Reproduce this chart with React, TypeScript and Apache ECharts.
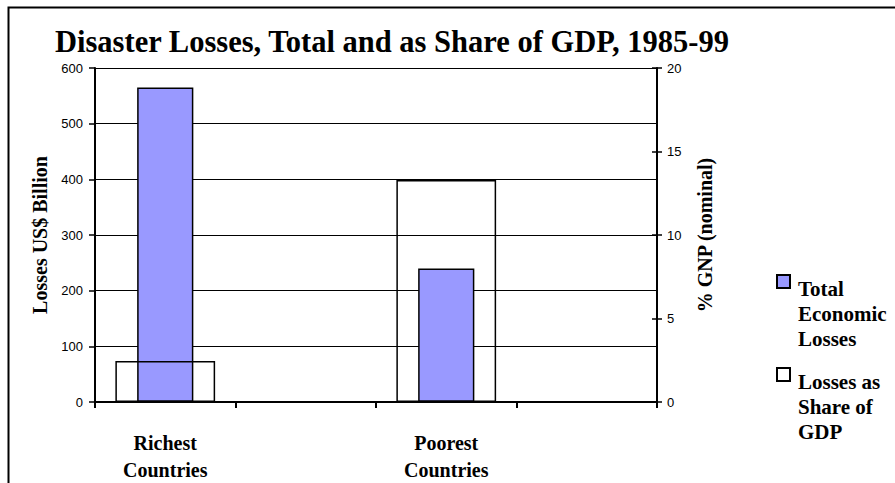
import React, { useEffect, useRef } from "react";
import * as echarts from "echarts";

const titleText = "Disaster Losses, Total and as Share of GDP, 1985-99";
const categories = ["Richest Countries", "", "Poorest Countries", ""];
const seriesNames = ["Total Economic Losses", "Losses as Share of GDP"];
const legendLines = [["Total", "Economic", "Losses"], ["Losses as", "Share of", "GDP"]];
const totalLosses = [565, null, 240, null];
const shareOfGdp = [2.45, null, 13.3, null];
const leftAxisName = "Losses US$ Billion";
const rightAxisName = "% GNP (nominal)";
const leftMin = 0, leftMax = 600, leftStep = 100;
const rightMin = 0, rightMax = 20, rightStep = 5;

const SERIF = "'Liberation Serif', 'Times New Roman', serif";
const SANS = "'Liberation Sans', Arial, sans-serif";

export default function App() {
  const ref = useRef<HTMLDivElement>(null);
  useEffect(() => {
    document.body.style.margin = "0";
    const chart = echarts.init(ref.current!, null, { renderer: "svg" });
    const legendText = {
      fontFamily: SERIF,
      fontWeight: "bold" as const,
      fontSize: 21,
      lineHeight: 25,
      color: "#000",
      rich: {
        pad: { fontSize: 10, lineHeight: 64, height: 64 },
        t: { fontFamily: SERIF, fontWeight: "bold", fontSize: 21, lineHeight: 25, color: "#000", padding: [0, 0, 0, 3] },
      },
    };
    const legendFormat = (i: number) => () =>
      "{pad| }\n" + legendLines[i].map((s) => "{t|" + s + "}").join("\n");
    chart.setOption({
      animation: false,
      backgroundColor: "#fff",
      title: {
        text: titleText,
        left: 55,
        top: 26,
        padding: 0,
        textStyle: { fontFamily: SERIF, fontWeight: "bold", fontSize: 30.5, color: "#000" },
      },
      grid: { left: 95, right: 238, top: 68, bottom: 75 },
      legend: [
        {
          data: [{ name: seriesNames[0], itemStyle: { color: "#9999FF", borderColor: "#000", borderWidth: 2 } }],
          orient: "vertical",
          left: 776,
          top: 212,
          padding: 0,
          itemWidth: 13,
          itemHeight: 13,
          icon: "rect",
          selectedMode: false,
          formatter: legendFormat(0),
          textStyle: legendText,
        },
        {
          data: [{ name: seriesNames[1], itemStyle: { color: "#fff", borderColor: "#000", borderWidth: 2 } }],
          orient: "vertical",
          left: 776,
          top: 305,
          padding: 0,
          itemWidth: 13,
          itemHeight: 13,
          icon: "rect",
          selectedMode: false,
          formatter: legendFormat(1),
          textStyle: legendText,
        },
      ],
      xAxis: [
        {
          type: "category",
          data: categories,
          axisLine: { lineStyle: { color: "#000", width: 2 } },
          axisTick: { show: true, length: 6, lineStyle: { color: "#000", width: 2 } },
          axisLabel: {
            interval: 0,
            margin: 27,
            formatter: (v: string) => v.replace(" ", "\n"),
            fontFamily: SERIF,
            fontWeight: "bold",
            fontSize: 20,
            lineHeight: 27,
            color: "#000",
          },
          splitLine: { show: false },
        },
        { type: "category", data: categories, show: false },
      ],
      yAxis: [
        {
          type: "value",
          position: "left",
          min: leftMin,
          max: leftMax,
          interval: leftStep,
          name: leftAxisName,
          nameLocation: "middle",
          nameRotate: 90,
          nameGap: 44,
          nameTextStyle: { fontFamily: SERIF, fontWeight: "bold", fontSize: 20, color: "#000" },
          axisLine: { show: true, lineStyle: { color: "#000", width: 2 } },
          axisTick: { show: true, length: 6, lineStyle: { color: "#000", width: 1.5 } },
          axisLabel: { margin: 12, fontFamily: SANS, fontSize: 13, color: "#000" },
          splitLine: { show: true, lineStyle: { color: "#000", width: 1 } },
        },
        {
          type: "value",
          position: "right",
          min: rightMin,
          max: rightMax,
          interval: rightStep,
          name: rightAxisName,
          nameLocation: "middle",
          nameRotate: 90,
          nameGap: 38,
          nameTextStyle: { fontFamily: SERIF, fontWeight: "bold", fontSize: 20, color: "#000" },
          axisLine: { show: true, lineStyle: { color: "#000", width: 2 } },
          axisTick: { show: true, length: 5, lineStyle: { color: "#000", width: 1.5 } },
          axisLabel: { margin: 10, fontFamily: SANS, fontSize: 13, color: "#000" },
          splitLine: { show: false },
        },
        {
          type: "value",
          position: "right",
          min: rightMin,
          max: rightMax,
          interval: rightStep,
          axisLine: { show: false },
          axisTick: { show: true, inside: true, length: 5, lineStyle: { color: "#000", width: 1.5 } },
          axisLabel: { show: false },
          splitLine: { show: false },
        },
      ],
      series: [
        {
          name: seriesNames[0],
          type: "bar",
          xAxisIndex: 0,
          yAxisIndex: 0,
          data: totalLosses,
          barWidth: "40%",
          itemStyle: { color: "#9999FF", borderColor: "#000", borderWidth: 1.5 },
        },
        {
          name: seriesNames[1],
          type: "bar",
          xAxisIndex: 1,
          yAxisIndex: 1,
          data: shareOfGdp,
          barWidth: "71%",
          itemStyle: { color: "rgba(0,0,0,0)", borderColor: "#000", borderWidth: 1.5 },
        },
      ],
      graphic: [
        {
          type: "rect",
          left: 6,
          top: 5,
          shape: { x: 0, y: 0, width: 1200, height: 1200 },
          style: { fill: "none", stroke: "#000", lineWidth: 2 },
          silent: true,
        },
      ],
    });
    return () => chart.dispose();
  }, []);
  return <div ref={ref} style={{ position: "absolute", left: 0, top: 0, width: 895, height: 483 }} />;
}
